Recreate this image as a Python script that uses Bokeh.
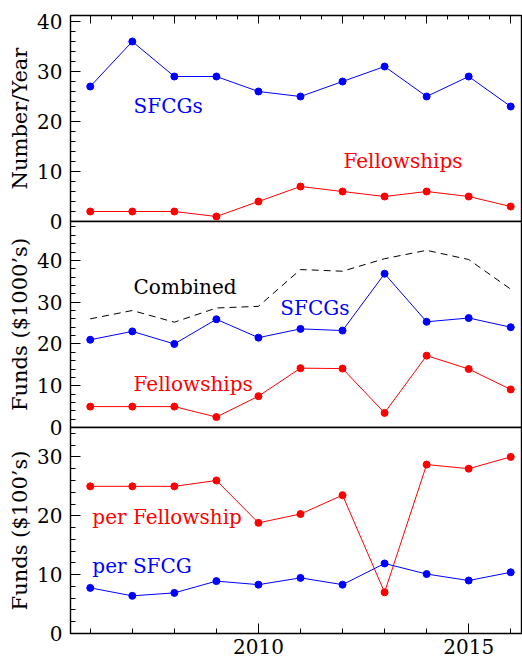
from bokeh.plotting import figure
from bokeh.layouts import column
from bokeh.models import (Range1d, SingleIntervalTicker, LinearAxis, Label,
                          CustomLabelingPolicy)
from bokeh.embed import file_html
from bokeh.resources import INLINE

# ---------------- data ----------------
years = [2006, 2007, 2008, 2009, 2010, 2011, 2012, 2013, 2014, 2015, 2016]

# panel 1: number per year
n_sfcg = [27, 36, 29, 29, 26, 25, 28, 31, 25, 29, 23]
n_fellow = [2, 2, 2, 1, 4, 7, 6, 5, 6, 5, 3]

# panel 2: funds ($1000's)
funds_sfcg = [21.0, 23.0, 20.0, 25.9, 21.5, 23.6, 23.2, 36.8, 25.3, 26.2, 24.0]
funds_fellow = [5.0, 5.0, 5.0, 2.5, 7.5, 14.2, 14.1, 3.5, 17.2, 14.0, 9.1]
funds_combined = [26.0, 28.0, 25.2, 28.6, 29.0, 37.8, 37.4, 40.4, 42.4, 40.2, 33.1]

# panel 3: funds per award ($100's)
per_fellow = [25.0, 25.0, 25.0, 26.0, 18.8, 20.3, 23.5, 7.0, 28.7, 28.0, 30.0]
per_sfcg = [7.75, 6.4, 6.9, 8.9, 8.3, 9.45, 8.3, 11.9, 10.1, 9.0, 10.4]

y_labels = ["Number/Year", "Funds ($1000\u2019s)", "Funds ($100\u2019s)"]

# ---------------- styling ----------------
FONT = "DejaVu Serif"
BLUE = "#0000ff"
RED = "#ff0000"
WIDTH = 522
LEFT = 70
FRAME_H = 206
OVER = 12   # room for tick labels that straddle panel boundaries

xr = Range1d(2005.53, 2016.28)


def make_panel(ymax, ylabel, top, bottom, margin_top=0):
    kw = {}
    if margin_top:
        kw["styles"] = {"margin-top": f"-{margin_top}px"}
    p = figure(width=WIDTH, height=top + FRAME_H + bottom, x_range=xr,
               y_range=Range1d(0, ymax), output_backend="svg",
               toolbar_location=None, x_axis_location=None,
               y_axis_location=None, min_border_left=LEFT,
               min_border_right=0, min_border_top=top,
               min_border_bottom=bottom, **kw)
    p.xgrid.visible = False
    p.ygrid.visible = False
    p.outline_line_color = "black"
    p.outline_line_width = 1.4
    p.background_fill_color = "white"
    p.border_fill_color = None
    yax = LinearAxis(ticker=SingleIntervalTicker(interval=10, num_minor_ticks=5),
                     axis_label=ylabel)
    yax.major_tick_in = 10
    yax.major_tick_out = 0
    yax.minor_tick_in = 5
    yax.minor_tick_out = 0
    yax.axis_line_color = "black"
    yax.major_label_text_font = FONT
    yax.major_label_text_font_size = "20px"
    yax.major_label_text_color = "black"
    yax.major_label_standoff = 8
    yax.axis_label_text_font = FONT
    yax.axis_label_text_font_size = "21px"
    yax.axis_label_text_font_style = "normal"
    yax.axis_label_text_color = "black"
    yax.axis_label_standoff = 2
    p.add_layout(yax, "left")
    return p


def add_label(p, x, y, text, color):
    p.add_layout(Label(x=x, y=y, text=text, text_color=color, text_font=FONT,
                       text_font_size="20px", text_baseline="middle",
                       text_align="left"))


no_labels = CustomLabelingPolicy(code="""
const out = indices.clone();
for (const i of Array.from(indices)) {
  if (typeof out.unset === "function") { out.unset(i) } else { out.set(i, false) }
}
return out
""")

# ---------------- panel 1 ----------------
p1 = make_panel(41.2, y_labels[0], top=15, bottom=OVER)
top_ax = LinearAxis(ticker=SingleIntervalTicker(interval=2, num_minor_ticks=4))
top_ax.major_tick_in = 8
top_ax.major_tick_out = 0
top_ax.minor_tick_in = 4
top_ax.minor_tick_out = 0
top_ax.major_label_text_font_size = "1px"
top_ax.major_label_standoff = 0
top_ax.major_label_policy = no_labels
top_ax.axis_line_color = "black"
p1.add_layout(top_ax, "above")

p1.line(years, n_sfcg, line_color=BLUE, line_width=1)
p1.scatter(years, n_sfcg, size=7, fill_color=BLUE, line_color=BLUE)
p1.line(years, n_fellow, line_color=RED, line_width=1)
p1.scatter(years, n_fellow, size=7, fill_color=RED, line_color=RED)
add_label(p1, 2007.03, 23.1, "SFCGs", BLUE)
add_label(p1, 2012.02, 12.1, "Fellowships", RED)

# ---------------- panel 2 ----------------
p2 = make_panel(49.3, y_labels[1], top=OVER, bottom=OVER, margin_top=2 * OVER)
p2.line(years, funds_combined, line_color="black", line_width=1, line_dash="7 5")
p2.line(years, funds_sfcg, line_color=BLUE, line_width=1)
p2.scatter(years, funds_sfcg, size=7, fill_color=BLUE, line_color=BLUE)
p2.line(years, funds_fellow, line_color=RED, line_width=1)
p2.scatter(years, funds_fellow, size=7, fill_color=RED, line_color=RED)
add_label(p2, 2007.03, 33.6, "Combined", "black")
add_label(p2, 2010.52, 28.6, "SFCGs", BLUE)
add_label(p2, 2007.03, 10.4, "Fellowships", RED)

# ---------------- panel 3 ----------------
p3 = make_panel(35.0, y_labels[2], top=OVER, bottom=29, margin_top=2 * OVER)
bot_ax = LinearAxis(ticker=SingleIntervalTicker(interval=5, num_minor_ticks=5))
bot_ax.major_tick_in = 10
bot_ax.major_tick_out = 0
bot_ax.minor_tick_in = 5
bot_ax.minor_tick_out = 0
bot_ax.axis_line_color = "black"
bot_ax.major_label_text_font = FONT
bot_ax.major_label_text_font_size = "20px"
bot_ax.major_label_text_color = "black"
bot_ax.major_label_standoff = 5
p3.add_layout(bot_ax, "below")

p3.line(years, per_fellow, line_color=RED, line_width=1)
p3.scatter(years, per_fellow, size=7, fill_color=RED, line_color=RED)
p3.line(years, per_sfcg, line_color=BLUE, line_width=1)
p3.scatter(years, per_sfcg, size=7, fill_color=BLUE, line_color=BLUE)
add_label(p3, 2006.05, 19.8, "per Fellowship", RED)
add_label(p3, 2006.05, 11.5, "per SFCG", BLUE)

layout = column(p1, p2, p3, spacing=0)

open("out.html", "w").write(file_html(layout, INLINE))
